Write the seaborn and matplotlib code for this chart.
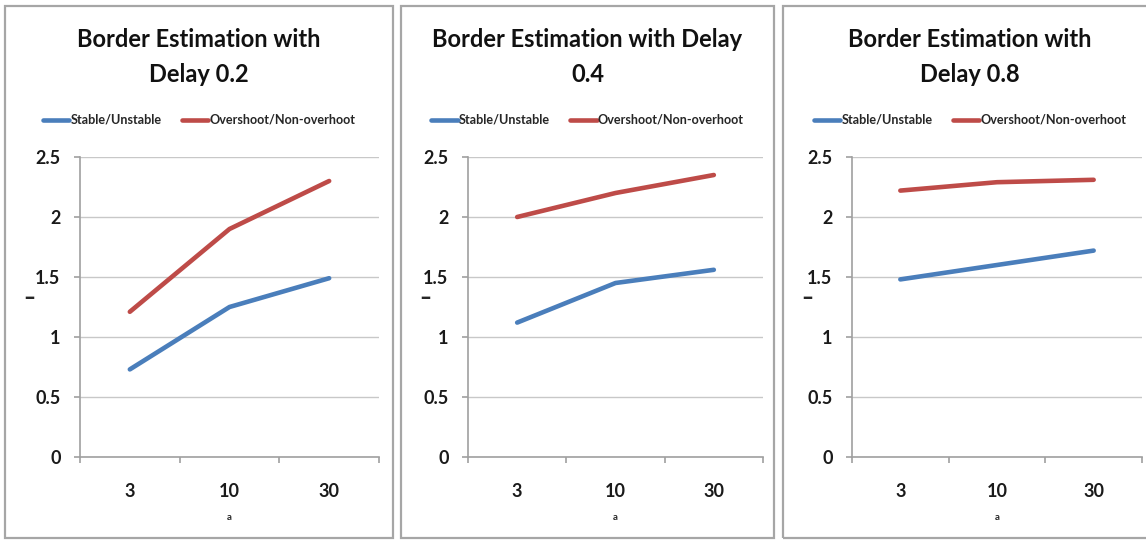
import matplotlib
matplotlib.use("Agg")
import matplotlib.pyplot as plt
from matplotlib.patches import Rectangle
from matplotlib.ticker import FixedLocator
import seaborn as sns
import pandas as pd

# ---- data ----
categories = ["3", "10", "30"]
series_names = ["Stable/Unstable", "Overshoot/Non-overhoot"]
titles = ["Border Estimation with\nDelay 0.2",
          "Border Estimation with Delay\n0.4",
          "Border Estimation with\nDelay 0.8"]
stable_02 = [0.73, 1.25, 1.49]
overshoot_02 = [1.21, 1.90, 2.30]
stable_04 = [1.12, 1.45, 1.56]
overshoot_04 = [2.00, 2.20, 2.35]
stable_08 = [1.48, 1.60, 1.72]
overshoot_08 = [2.22, 2.29, 2.31]
y_ticks = [0, 0.5, 1, 1.5, 2, 2.5]
y_ticklabels = ["0", "0.5", "1", "1.5", "2", "2.5"]

panels = [(stable_02, overshoot_02), (stable_04, overshoot_04), (stable_08, overshoot_08)]

sns.set_style("white")
plt.rcParams["font.family"] = ["Lato", "DejaVu Sans"]

BLUE = "#4A7EBB"
RED = "#BE4B48"
palette = {series_names[0]: BLUE, series_names[1]: RED}

W, H = 1146, 540
fig = plt.figure(figsize=(W / 100, H / 100), dpi=100)

# layout in pixels
axes_px = [(80, 379), (468, 763), (852, 1142)]
panel_px = [(5, 393), (401, 774), (783, 1157)]
ax_top, ax_bot = 157, 457

for i, ((s, o), (l, r), (pl, pr)) in enumerate(zip(panels, axes_px, panel_px)):
    # panel border
    fig.patches.append(Rectangle((pl / W, 1 - 538 / H), (pr - pl) / W, (538 - 6) / H,
                                 transform=fig.transFigure, fill=False,
                                 edgecolor="#A6A6A6", lw=1.6, zorder=0))
    ax = fig.add_axes([l / W, 1 - ax_bot / H, (r - l) / W, (ax_bot - ax_top) / H])
    df = pd.DataFrame({
        "a": categories * 2,
        "value": list(s) + list(o),
        "series": [series_names[0]] * 3 + [series_names[1]] * 3,
    })
    sns.lineplot(data=df, x="a", y="value", hue="series", palette=palette,
                 linewidth=3.3, ax=ax, sort=False, legend=False)
    ax.set_xlim(-0.5, 2.5)
    ax.set_ylim(0, 2.5)
    ax.set_yticks(y_ticks)
    ax.set_yticklabels(y_ticklabels)
    ax.yaxis.grid(True, color="#C8C8C8", lw=1.0)
    ax.xaxis.grid(False)
    for side in ["top", "right"]:
        ax.spines[side].set_visible(False)
    for side in ["left", "bottom"]:
        ax.spines[side].set_color("#A0A0A0")
        ax.spines[side].set_linewidth(1.2)
    ax.set_xticks([0, 1, 2])
    ax.set_xticklabels(categories)
    ax.xaxis.set_minor_locator(FixedLocator([-0.5, 0.5, 1.5, 2.5]))
    ax.tick_params(axis="x", which="major", length=0, pad=19, labelsize=13)
    ax.tick_params(axis="x", which="minor", length=4, width=1.2, color="#A0A0A0",
                   direction="out", bottom=True)
    ax.tick_params(axis="y", which="major", length=4, width=1.2, color="#A0A0A0",
                   direction="out", left=True, pad=10, labelsize=13)
    for lab in ax.get_xticklabels() + ax.get_yticklabels():
        lab.set_fontweight("bold")
        lab.set_color("#1a1a1a")
    ax.set_xlabel("a", fontsize=7, fontweight="bold")
    ax.xaxis.set_label_coords(0.5, -(513 - ax_bot) / (ax_bot - ax_top))
    ax.set_ylabel("–", fontsize=15, fontweight="heavy", rotation=0)
    ax.yaxis.set_label_coords(-(l - (pl + 24)) / (r - l), 0.5)

    cx = (pl + pr) / 2 / W
    fig.text(cx, 1 - 57 / H, titles[i], ha="center", va="center",
             fontsize=17, fontweight="bold", linespacing=1.65, color="#111111")
    handles = [plt.Line2D([], [], color=BLUE, lw=3.3),
               plt.Line2D([], [], color=RED, lw=3.3)]
    fig.legend(handles, series_names, loc="center", bbox_to_anchor=(cx, 1 - 120 / H),
               ncol=2, frameon=False, handlelength=2.1, handletextpad=0.1,
               columnspacing=1.6, prop={"weight": "bold", "size": 9.1})

fig.savefig("out.png", dpi=100)
